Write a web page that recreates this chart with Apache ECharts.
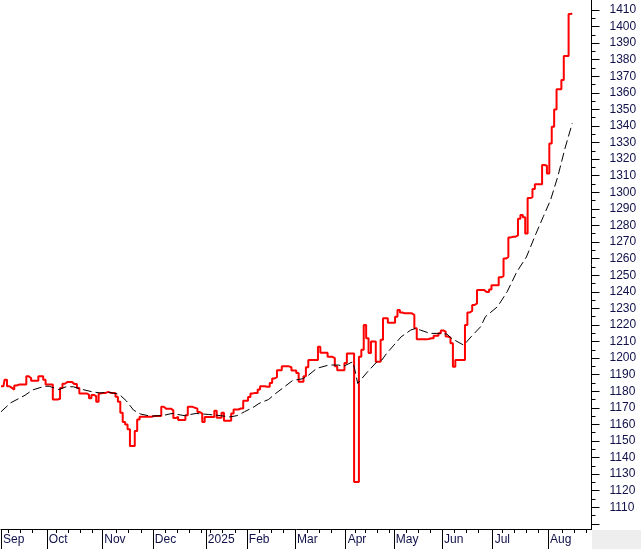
<!DOCTYPE html>
<html><head><meta charset="utf-8">
<script src="https://cdn.jsdelivr.net/npm/echarts@6/dist/echarts.min.js"></script>
<style>html,body{margin:0;padding:0;background:#fff}#c{width:641px;height:549px}</style>
</head><body><div id="c"></div>
<script>
// ---- data ----
const monthLabels = ['Sep','Oct','Nov','Dec','2025','Feb','Mar','Apr','May','Jun','Jul','Aug'];
const startDate = '2024-09-04';
const slotCount = 246;
const holidays = ['2025-01-01','2025-01-27','2025-01-28','2025-01-29','2025-01-30','2025-01-31',
  '2025-04-07','2025-04-30','2025-05-01','2025-05-02'];

const priceValues = [
  1183, 1183, 1187, 1183, 1182, 1181, 1183.5, 1184, 1184, 1184,
  1184, 1189, 1188, 1186.3, 1186.3, 1186.3, 1189, 1189, 1187, 1184,
  1184, 1184, 1175, 1175, 1175.5, 1182, 1184.5, 1185.5, 1185.5, 1185.5,
  1184.3, 1184.3, 1182, 1178.7, 1178.7, 1178.7, 1178, 1175.7, 1177.8, 1177,
  1173.6, 1178.7, 1179, 1179, 1179.6, 1179, 1179, 1179, 1176.6, 1173.6,
  1167, 1161.5, 1160, 1157, 1147, 1147, 1156, 1163, 1164.6, 1164.6,
  1164.6, 1164.6, 1164.6, 1165, 1165, 1165, 1165, 1170.6, 1169.5, 1169.5,
  1169.5, 1168.5, 1163.8, 1164.6, 1162.6, 1162.6, 1162.6, 1165.5, 1170.6, 1170.6,
  1170, 1169.5, 1167.5, 1166.5, 1161.5, 1164.5, 1164.5, 1164.5, 1164.5, 1168.2,
  1164, 1164, 1167, 1162.2, 1162.2, 1162.2, 1166.5, 1169, 1169, 1169.6,
  1169.6, 1174.2, 1174.2, 1176.5, 1178.7, 1179, 1179, 1181, 1183, 1183,
  1182.7, 1182.7, 1185, 1187.7, 1188.5, 1192.7, 1192.7, 1195, 1195, 1195,
  1194.5, 1192.5, 1192.5, 1191, 1185.7, 1185.7, 1189, 1194.5, 1198.8, 1198.8,
  1198.8, 1198.8, 1206.8, 1203.2, 1203.2, 1203.2, 1200.8, 1200.8, 1200, 1195,
  1192.7, 1192.7, 1192.7, 1197, 1202.8, 1202.8, 1202.8, 1125.3, 1125.3, 1200.8,
  1205, 1220, 1212, 1203, 1210, 1210, 1197.8, 1197.8, 1211, 1224,
  1224, 1221.3, 1221.3, 1221.3, 1225, 1229, 1227.5, 1227, 1227, 1227,
  1227, 1226, 1218, 1211.3, 1211.3, 1211.3, 1211.3, 1211.5, 1212, 1212,
  1213.5, 1213.5, 1215, 1216.7, 1216, 1213, 1212.3, 1209, 1194.7, 1198.8,
  1198.8, 1198.8, 1198.8, 1220, 1227.5, 1228.5, 1232, 1233, 1241, 1241,
  1241, 1239.8, 1239.8, 1241.4, 1243.9, 1243.9, 1244, 1248.7, 1249.5, 1260,
  1261, 1272.8, 1273.2, 1273.2, 1274, 1284, 1286.3, 1285, 1275.2, 1296.5,
  1297, 1302, 1304.8, 1304.8, 1304.8, 1316.5, 1316, 1311.4, 1329.5, 1339.6,
  1350, 1362.1, 1362.1, 1367.8, 1382.2, 1382.2, 1407.6, 1408
];

// moving average read at selected trading days (slot index)
const maDays = [0,4,10,13,18,20,24,27,30,34,38,41,45,49,52,55,58,62,67,71,76,81,86,91,95,98,101,105,107,111,114,117,121,125,127,131,136,140,142,146,147,148,152,156,158,160,163,166,170,172,174,178,182,185,187,192,195,199,201,206,210,214,218,222,225,228,231,234,237];
const maValues = [1167.6,1173,1177.6,1180.7,1183,1183,1181,1182.7,1182.7,1181,1179.6,1179,1179.3,1178.2,1174.2,1168.6,1166.2,1165,1165.3,1166.6,1165.3,1166.6,1166,1165.3,1164.5,1165.3,1167.6,1170.6,1172.6,1175,1178.7,1182,1186.5,1187.5,1189,1193.8,1195.8,1195.8,1195,1197.8,1191.6,1184.7,1191.6,1197.8,1198.8,1202.8,1207.8,1212.8,1216.9,1217.9,1216.9,1214.9,1214.9,1214.5,1211.8,1207.8,1212.8,1218.9,1225,1231,1240,1252,1261,1275.2,1285.3,1295.3,1309.4,1326.5,1341.6];

const yMin = 1096.9, yMax = 1416.0;
const yTickValues = [1100,1110,1120,1130,1140,1150,1160,1170,1180,1190,1200,1210,1220,1230,1240,1250,1260,1270,1280,1290,1300,1310,1320,1330,1340,1350,1360,1370,1380,1390,1400,1410];
const yLabelValues = [1110,1120,1130,1140,1150,1160,1170,1180,1190,1200,1210,1220,1230,1240,1250,1260,1270,1280,1290,1300,1310,1320,1330,1340,1350,1360,1370,1380,1390,1400,1410];
const yMinorValues = [1105,1115,1125,1135,1145,1155,1165,1175,1185,1195,1205,1215,1225,1235,1245,1255,1265,1275,1285,1295,1305,1315,1325,1335,1345,1355,1365,1375,1385,1395,1405];

// ---- trading calendar ----
const dates = [], dows = [];
{
  let t = Date.parse(startDate + 'T00:00:00Z');
  while (dates.length < slotCount) {
    const d = new Date(t);
    const dow = d.getUTCDay();
    const iso = d.toISOString().slice(0, 10);
    if (dow !== 0 && dow !== 6 && holidays.indexOf(iso) < 0) { dates.push(iso); dows.push(dow); }
    t += 86400000;
  }
}
const monthStart = dates.map((d, i) => i === 0 || d.slice(0, 7) !== dates[i - 1].slice(0, 7));
const monthName = [];
{ let k = -1; dates.forEach((d, i) => { if (monthStart[i]) k++; monthName[i] = monthLabels[k] || ''; }); }
const weekStart = dates.map((d, i) => i > 0 && dows[i] < dows[i - 1] && !monthStart[i] && !monthStart[i - 1] && !(i + 1 < dates.length && monthStart[i + 1]));

const maFull = dates.slice(0, priceValues.length).map(() => null);
maDays.forEach((d, k) => { maFull[d] = maValues[k]; });

const txtColor = '#10104a';
const font = 'Liberation Sans, Arial, sans-serif';

const chart = echarts.init(document.getElementById('c'), null, { renderer: 'canvas' });
chart.setOption({
  animation: false,
  backgroundColor: '#ffffff',
  grid: { left: 1, right: 49.5, top: 0, bottom: 20, containLabel: false },
  xAxis: [
    { type: 'category', data: dates, boundaryGap: false, position: 'bottom',
      axisLine: { show: true, lineStyle: { color: '#000', width: 1 } },
      axisTick: { show: true, interval: (i) => weekStart[i], length: 4, lineStyle: { color: '#000' } },
      axisLabel: { show: false }, splitLine: { show: false } },
    { type: 'category', data: dates, boundaryGap: false, position: 'bottom',
      axisLine: { show: false },
      axisTick: { show: true, interval: (i) => monthStart[i], length: 20, lineStyle: { color: '#000' } },
      axisLabel: { show: true, interval: (i) => monthStart[i], formatter: (v, i) => monthName[i],
        align: 'left', padding: [0, 0, 0, 2], margin: 5, color: txtColor, fontFamily: font, fontSize: 12 },
      splitLine: { show: false } }
  ],
  yAxis: [
    { type: 'value', position: 'right', min: yMin, max: yMax,
      axisLine: { show: true, lineStyle: { color: '#000', width: 1 } },
      axisTick: { show: true, customValues: yTickValues, length: 8, lineStyle: { color: '#000' } },
      axisLabel: { show: true, customValues: yLabelValues, formatter: (v) => String(Math.round(v)),
        margin: 18, color: txtColor, fontFamily: font, fontSize: 12 },
      splitLine: { show: false } },
    { type: 'value', position: 'right', min: yMin, max: yMax,
      axisLine: { show: false },
      axisTick: { show: true, customValues: yMinorValues, length: 4, lineStyle: { color: '#000' } },
      axisLabel: { show: false }, splitLine: { show: false } }
  ],
  graphic: [
    { type: 'rect', right: 0, bottom: 0, shape: { width: 49, height: 19 }, style: { fill: '#eeeeee' }, silent: true }
  ],
  series: [
    { name: 'Price', type: 'line', xAxisIndex: 0, yAxisIndex: 0, data: priceValues, step: 'middle',
      symbol: 'none', lineStyle: { color: '#ff0000', width: 2 } },
    { name: 'MA', type: 'line', xAxisIndex: 0, yAxisIndex: 0, data: maFull, connectNulls: true,
      symbol: 'none', smooth: false, lineStyle: { color: '#000000', width: 1, type: [9, 4] } }
  ]
});
</script>
</body></html>
